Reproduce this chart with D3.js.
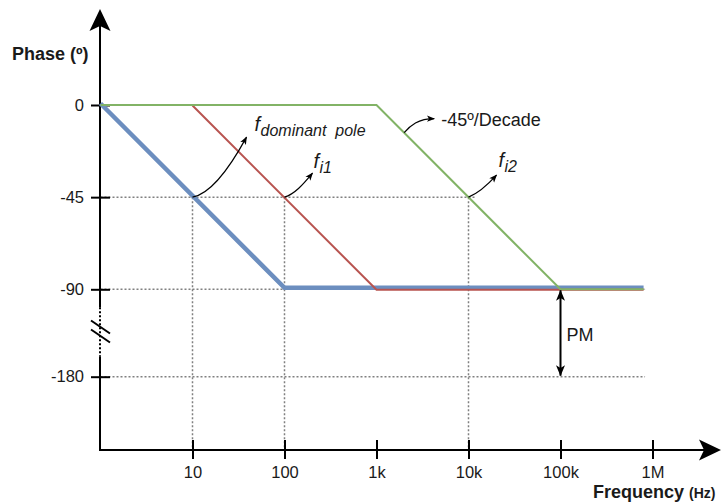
<!DOCTYPE html>
<html>
<head>
<meta charset="utf-8">
<script src="https://cdn.jsdelivr.net/npm/d3@7"></script>
<style>
	html, body { margin: 0; padding: 0; background: #fff; }
	svg { display: block; font-family: "Liberation Sans", Arial, Helvetica, sans-serif; }
	text { white-space: pre; }
</style>
</head>
<body>
<svg id="chart" width="721" height="502"></svg>
<script>
// @ Data
const freqTicks = [10, 100, 1e3, 1e4, 1e5, 1e6];
const freqLabels = ["10", "100", "1k", "10k", "100k", "1M"];
const phaseTicks = [0, -45, -90, -180];
const phaseLabels = ["0", "-45", "-90", "-180"];

// asymptotic phase curves [freq, phase]
const dominantPole = [[1, 0], [100, -90], [8e5, -90]];
const pole1 = [[10, 0], [1e3, -90], [8e5, -90]];
const pole2 = [[1, 0], [1e3, 0], [1e5, -90], [8e5, -90]];

// dotted guides [f1, p1, f2, p2]
const guides = [
	[10, -45, 10, -200],
	[100, -45, 100, -200],
	[1e4, -45, 1e4, -200],
	[1, -45, 1.18e4, -45],
	[1, -90, 8.3e5, -90],
	[1, -180, 8.3e5, -180],
];

const notes = [
	{ anchor: [10, -45], main: "f", sub: "dominant  pole" },
	{ anchor: [100, -45], main: "f", sub: "i1" },
	{ anchor: [1e4, -45], main: "f", sub: "i2" },
	{ anchor: [2e3, -13.5], main: "-45º/Decade", sub: "" },
];
const pmFreq = 1e5;
const pmRange = [-90, -180];

// @ Layout
const axisX = 100, axisY = 450;
const x = d3.scaleLog().domain([1, 1e6]).range([100.5, 652.5]);
// broken axis between -90 and -180
const y = d3.scaleLinear().domain([0, -90, -180]).range([105, 289.3, 376.7]);
const yBottom = (p) => (p < -180 ? axisY : y(p));

// curve offsets for the small annotation arrows (pixels from anchor)
const noteLayout = [
	{ c: [[17, -3], [36, -27], [54, -60]], label: [62, -66] },
	{ c: [[10, -3], [18, -12], [28, -24]], label: [29, -29] },
	{ c: [[10, -4], [18, -11], [28, -22]], label: [30, -30] },
	{ c: [[6, -7], [14, -14], [30, -14]], label: [37, -7] },
];

const colors = { blue: "#6c8ebf", red: "#b85450", green: "#82b366", grid: "#808080" };

const svg = d3.select("#chart");
const defs = svg.append("defs");

defs.append("marker")
	.attr("id", "smallHead")
	.attr("markerUnits", "userSpaceOnUse")
	.attr("viewBox", "0 0 10 8")
	.attr("refX", 9)
	.attr("refY", 4)
	.attr("markerWidth", 8)
	.attr("markerHeight", 7)
	.attr("orient", "auto")
	.append("path")
	.attr("d", "M0,0 L10,4 L0,8 L2.5,4 Z")
	.attr("fill", "#000");

defs.append("marker")
	.attr("id", "bigHead")
	.attr("markerUnits", "userSpaceOnUse")
	.attr("viewBox", "0 0 12 10")
	.attr("refX", 11.5)
	.attr("refY", 5)
	.attr("markerWidth", 11)
	.attr("markerHeight", 9)
	.attr("orient", "auto-start-reverse")
	.append("path")
	.attr("d", "M0,0 L12,5 L0,10 L3,5 Z")
	.attr("fill", "#000");

// @ Guides
svg.append("g")
	.selectAll("line")
	.data(guides)
	.enter()
	.append("line")
	.attr("x1", (d) => Math.max(axisX, x(d[0])))
	.attr("y1", (d) => yBottom(d[1]))
	.attr("x2", (d) => x(d[2]))
	.attr("y2", (d) => yBottom(d[3]))
	.attr("stroke", colors.grid)
	.attr("stroke-width", 1.5)
	.attr("stroke-dasharray", "2,2");

// @ Axes
const xAxis = svg.append("g")
	.attr("transform", `translate(0,${axisY})`)
	.call(
		d3.axisBottom(x)
			.tickValues(freqTicks)
			.tickFormat((d, i) => freqLabels[i])
			.tickSize(9)
			.tickPadding(7)
	);
xAxis.select(".domain").remove();
xAxis.selectAll(".tick line").attr("y1", -10).attr("stroke", "#000").attr("stroke-width", 2);
xAxis.selectAll(".tick text")
	.attr("fill", "#1a1a1a")
	.style("font-size", "16.5px")
	.style("font-family", "Liberation Sans, Arial, sans-serif");

const yAxis = svg.append("g")
	.attr("transform", `translate(${axisX},0)`)
	.call(
		d3.axisLeft(y)
			.tickValues(phaseTicks)
			.tickFormat((d, i) => phaseLabels[i])
			.tickSize(9)
			.tickPadding(7)
	);
yAxis.select(".domain").remove();
yAxis.selectAll(".tick line").attr("x1", -9).attr("x2", 10).attr("stroke", "#000").attr("stroke-width", 2);
yAxis.selectAll(".tick text")
	.attr("fill", "#1a1a1a")
	.style("font-size", "16.5px")
	.style("font-family", "Liberation Sans, Arial, sans-serif");

const breakTop = y(-90) + 18;
const breakBottom = y(-180) - 20;
const axisLines = [
	[axisX, 26, axisX, breakTop, null],
	[axisX, breakTop, axisX, breakBottom, "2,2"],
	[axisX, breakBottom, axisX, axisY + 1, null],
	[axisX - 1, axisY, 711, axisY, null],
];
svg.append("g")
	.selectAll("line")
	.data(axisLines)
	.enter()
	.append("line")
	.attr("x1", (d) => d[0])
	.attr("y1", (d) => d[1])
	.attr("x2", (d) => d[2])
	.attr("y2", (d) => d[3])
	.attr("stroke", "#000")
	.attr("stroke-width", 2)
	.attr("stroke-dasharray", (d) => d[4]);

// axis break slashes
const midBreak = (breakTop + breakBottom) / 2;
svg.append("g")
	.selectAll("line")
	.data([-4.5, 4.5])
	.enter()
	.append("line")
	.attr("x1", axisX - 9)
	.attr("y1", (d) => midBreak + d - 7)
	.attr("x2", axisX + 10)
	.attr("y2", (d) => midBreak + d + 6)
	.attr("stroke", "#000")
	.attr("stroke-width", 2);

// arrow heads of the axes
svg.append("path")
	.attr("d", `M${axisX},9 L${axisX + 10.5},31 L${axisX},26 L${axisX - 10.5},31 Z`)
	.attr("fill", "#000");
svg.append("path")
	.attr("d", `M721,${axisY} L699,${axisY - 10.5} L704,${axisY} L699,${axisY + 10.5} Z`)
	.attr("fill", "#000");

svg.append("text")
	.attr("x", 12)
	.attr("y", 60)
	.style("font-size", "18px")
	.style("font-weight", "bold")
	.attr("fill", "#1a1a1a")
	.text("Phase (º)");

const freqTitle = svg.append("text")
	.attr("x", 593)
	.attr("y", 498)
	.attr("fill", "#1a1a1a")
	.style("font-weight", "bold");
freqTitle.append("tspan").style("font-size", "18px").text("Frequency ");
freqTitle.append("tspan").style("font-size", "14px").text("(Hz)");

// @ Phase curves
const line = d3.line().x((d) => x(d[0])).y((d) => y(d[1]));
const curves = [
	{ data: dominantPole, color: colors.blue, width: 4.5, shift: -1.5 },
	{ data: pole1, color: colors.red, width: 2, shift: 0.5 },
	{ data: pole2, color: colors.green, width: 2, shift: 0 },
];
svg.append("g")
	.selectAll("path")
	.data(curves)
	.enter()
	.append("path")
	.attr("d", (d) => line(d.data))
	.attr("transform", (d) => `translate(0,${d.shift})`)
	.attr("fill", "none")
	.attr("stroke", (d) => d.color)
	.attr("stroke-width", (d) => d.width)
	.attr("stroke-linejoin", "miter");

// @ Annotations
const noteG = svg.append("g")
	.selectAll("g")
	.data(notes)
	.enter()
	.append("g")
	.attr("transform", (d) => `translate(${x(d.anchor[0])},${y(d.anchor[1])})`);

noteG.append("path")
	.attr("d", (d, i) => {
		const c = noteLayout[i].c;
		return `M0,0 C${c[0]} ${c[1]} ${c[2]}`;
	})
	.attr("fill", "none")
	.attr("stroke", "#000")
	.attr("stroke-width", 1.2)
	.attr("marker-end", "url(#smallHead)");

const noteText = noteG.append("text")
	.attr("x", (d, i) => noteLayout[i].label[0])
	.attr("y", (d, i) => noteLayout[i].label[1])
	.attr("fill", "#1a1a1a");
noteText.append("tspan")
	.style("font-style", (d) => (d.sub ? "italic" : "normal"))
	.style("font-size", (d) => (d.sub ? "20px" : "18px"))
	.text((d) => d.main);
noteText.append("tspan")
	.attr("dy", 5)
	.attr("dx", 0.5)
	.style("font-style", "italic")
	.style("font-size", "16px")
	.text((d) => d.sub);

// @ Phase margin
svg.append("line")
	.attr("x1", x(pmFreq))
	.attr("y1", y(pmRange[0]) + 1)
	.attr("x2", x(pmFreq))
	.attr("y2", y(pmRange[1]) - 1)
	.attr("stroke", "#000")
	.attr("stroke-width", 2)
	.attr("marker-start", "url(#bigHead)")
	.attr("marker-end", "url(#bigHead)");

svg.append("text")
	.attr("x", x(pmFreq) + 6)
	.attr("y", (y(pmRange[0]) + y(pmRange[1])) / 2 + 8)
	.attr("fill", "#1a1a1a")
	.style("font-size", "18px")
	.text("PM");
</script>
</body>
</html>
